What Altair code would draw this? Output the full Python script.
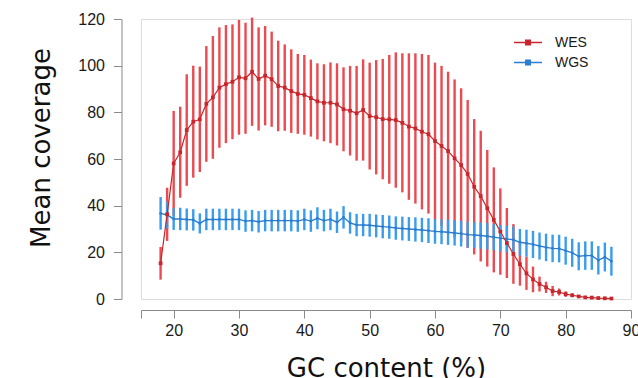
import altair as alt
import pandas as pd

# GC content (%) bins
gc = list(range(18, 88))

wes_mean = [15.3, 36.3, 58.1, 62.9, 72.4, 76.0, 77.0, 83.6, 86.4, 90.6,
            92.1, 93.1, 95.0, 94.6, 97.4, 94.3, 95.7, 94.2, 91.3, 90.6,
            89.1, 87.9, 87.5, 86.1, 84.7, 84.1, 84.1, 83.4, 81.3, 80.7,
            79.6, 81.0, 78.4, 77.9, 77.1, 77.0, 76.7, 75.5, 73.9, 73.1,
            71.7, 70.6, 67.7, 65.6, 63.4, 60.3, 57.4, 53.6, 48.1, 44.1,
            38.9, 33.9, 28.9, 24.0, 19.3, 14.9, 11.0, 8.4, 6.4, 5.0,
            3.4, 3.0, 2.1, 1.6, 1.1, 0.7, 0.6, 0.4, 0.3, 0.2]
wes_sd = [7.0, 11.4, 22.5, 19.5, 23.9, 24.0, 22.6, 24.8, 26.3, 25.8,
          25.3, 24.6, 24.6, 23.8, 23.2, 22.1, 21.3, 20.4, 19.4, 18.5,
          17.9, 17.1, 17.1, 16.5, 16.3, 16.5, 17.3, 17.6, 18.0, 19.2,
          20.3, 21.7, 22.9, 24.5, 25.8, 27.6, 29.0, 29.8, 31.4, 32.2,
          33.3, 34.0, 33.6, 34.3, 34.0, 33.8, 32.9, 31.7, 29.0, 28.0,
          25.0, 22.5, 18.5, 15.0, 12.8, 9.2, 7.1, 5.5, 3.2, 2.4,
          2.2, 1.5, 1.2, 0.8, 0.6, 0.4, 0.3, 0.2, 0.2, 0.1]

wgs_mean = [36.7, 36.0, 34.3, 34.3, 34.1, 33.9, 32.4, 34.1, 34.1, 34.1,
            34.1, 34.1, 34.1, 33.4, 33.6, 33.1, 33.6, 33.6, 33.6, 33.6,
            33.6, 33.4, 34.1, 33.4, 34.6, 33.6, 34.1, 32.9, 35.0, 32.6,
            31.7, 31.7, 31.6, 31.3, 31.0, 30.8, 30.4, 30.2, 30.0, 29.8,
            29.6, 29.3, 29.0, 28.8, 28.6, 28.3, 28.0, 27.6, 27.4, 27.2,
            26.9, 26.5, 26.1, 25.7, 25.4, 24.3, 23.9, 23.4, 22.7, 22.1,
            21.7, 21.6, 20.7, 19.8, 18.3, 18.6, 18.6, 16.6, 18.0, 16.2]
wgs_sd = [7.0, 5.8, 4.7, 4.8, 4.7, 4.6, 4.3, 4.6, 4.6, 4.6,
          4.6, 4.6, 4.6, 4.6, 4.6, 4.6, 4.6, 4.6, 4.6, 4.6,
          4.6, 4.6, 4.6, 4.6, 4.7, 4.6, 4.6, 4.6, 4.8, 4.6,
          4.8, 4.8, 4.9, 4.9, 5.0, 5.0, 5.0, 5.1, 5.1, 5.2,
          5.2, 5.3, 5.3, 5.3, 5.4, 5.4, 5.5, 5.5, 5.5, 5.6,
          5.6, 5.6, 5.6, 5.7, 5.7, 5.7, 5.8, 5.8, 5.8, 5.9,
          5.9, 5.9, 6.0, 6.0, 6.0, 6.1, 6.1, 6.1, 6.2, 6.2]

series = ["WES", "WGS"]
line_colors = {"WES": "#c8262c", "WGS": "#2b7dd0"}
bar_colors = {"WES": "#ea4a50", "WGS": "#3a9cec"}

rows = []
for name, means, sds in (("WES", wes_mean, wes_sd), ("WGS", wgs_mean, wgs_sd)):
    for g, m, s in zip(gc, means, sds):
        rows.append({"gc": g, "series": name, "mean": m, "sd": s})
df = pd.DataFrame(rows)

xscale = alt.Scale(domain=[15, 90], nice=False, zero=False)
yscale = alt.Scale(domain=[0, 120], nice=False)

axis_common = dict(
    grid=False, domainColor="#8a8a8a", tickColor="#8a8a8a", domainWidth=1, tickWidth=1,
    tickSize=8, labelFont="Liberation Sans", labelFontSize=16, labelColor="#1a1a1a",
    titleFont="DejaVu Sans", titleFontSize=26, titleFontWeight="normal", titleColor="#111111",
)

xaxis = alt.Axis(
    values=[15, 20, 30, 40, 50, 60, 70, 80, 90],
    labelExpr="datum.value == 15 ? '' : datum.label",
    offset=11, labelPadding=4, labelFlush=False, labelOverlap=False,
    title="GC content (%)", titleBaseline="alphabetic", titleAlign="center",
    titleX=245, titleY=66, **axis_common,
)
yaxis = alt.Axis(
    values=[0, 20, 40, 60, 80, 100, 120],
    offset=19.5, labelPadding=9, labelFlush=False, labelOverlap=False,
    title="Mean coverage", titleAngle=270, titleBaseline="alphabetic", titleAlign="center",
    titleX=-72, titleY=128.5, **axis_common,
)

legend_path = "M-2,0H2M-0.32,-0.32H0.32V0.32H-0.32ZM-0.12,-0.12H0.12V0.12H-0.12Z"
legend = alt.Legend(
    title=None, orient="none", legendX=379, legendY=15.5,
    symbolType=legend_path, symbolSize=196, symbolStrokeWidth=1.5,
    labelFont="Liberation Sans", labelFontSize=14, labelColor="#1a1a1a",
    labelOffset=19, rowPadding=5,
)

color = alt.Color(
    "series:N",
    scale=alt.Scale(domain=series, range=[line_colors[s] for s in series]),
    legend=legend,
)

base = alt.Chart(df).transform_calculate(
    lo="datum.mean - datum.sd", hi="datum.mean + datum.sd"
)
x = alt.X("gc:Q", scale=xscale, axis=xaxis)
y_mean = alt.Y("mean:Q", scale=yscale, axis=yaxis)


def bars(name, width):
    return base.transform_filter(alt.datum.series == name).mark_rule(
        strokeWidth=width, color=bar_colors[name]
    ).encode(x=x, y=alt.Y("lo:Q", scale=yscale, axis=yaxis), y2="hi:Q")


def line(name, width):
    return base.transform_filter(alt.datum.series == name).mark_line(strokeWidth=width).encode(
        x=x, y=y_mean, color=color
    )


wgs_pts = base.transform_filter(alt.datum.series == "WGS").mark_circle(
    size=7, opacity=1, color=line_colors["WGS"]
).encode(x=x, y=y_mean)
wes_pts = base.transform_filter(alt.datum.series == "WES").mark_square(
    size=14, opacity=1, color=line_colors["WES"]
).encode(x=x, y=y_mean)

chart = alt.layer(
    bars("WES", 2.4),
    bars("WGS", 2.4),
    line("WGS", 1.4),
    wgs_pts,
    line("WES", 1.2),
    wes_pts,
).properties(
    width=490,
    height=280,
    autosize=alt.AutoSizeParams(type="none"),
    padding={"left": 141, "top": 19, "right": 7, "bottom": 79},
).configure_view(stroke=None).configure(background="white")

chart.save("out.html", embed_options={"renderer": "svg", "actions": False})
